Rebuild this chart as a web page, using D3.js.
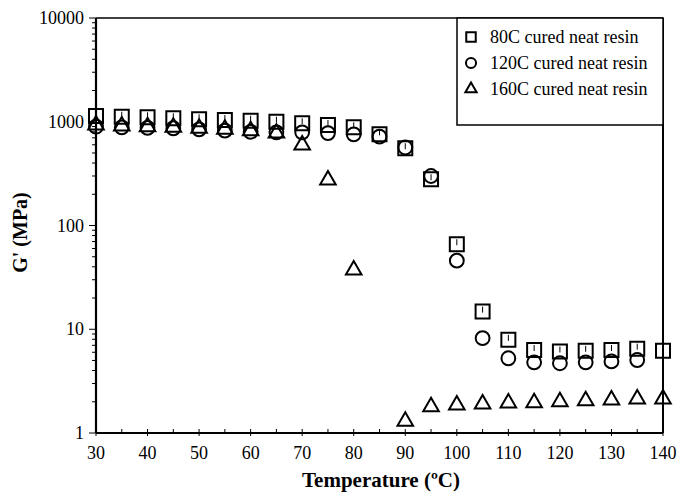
<!DOCTYPE html>
<html>
<head>
<meta charset="utf-8">
<script src="https://d3js.org/d3.v7.min.js"></script>
<style>
  body { margin: 0; background: #fff; }
  text { font-family: "Liberation Serif", "Times New Roman", serif; fill: #000; }
</style>
</head>
<body>
<div id="chart"></div>
<script>
// temperature (C) and storage modulus G' (MPa)
var temps = [30, 35, 40, 45, 50, 55, 60, 65, 70, 75, 80, 85, 90, 95, 100, 105, 110, 115, 120, 125, 130, 135, 140];
var g80  = [1136, 1118, 1104, 1080, 1056, 1040, 1024, 1001, 966, 930, 884, 756, 555, 279, 66, 14.8, 7.9, 6.3, 6.1, 6.2, 6.3, 6.5, 6.2];
var g120 = [896, 884, 873, 865, 845, 820, 800, 790, 790, 777, 756, 718, 565, 300, 45.8, 8.2, 5.25, 4.8, 4.7, 4.8, 4.9, 5.05, null];
var g160 = [930, 910, 896, 884, 865, 845, 820, 777, 597, 275, 37.3, null, 1.3, 1.79, 1.86, 1.9, 1.95, 1.96, 2.0, 2.05, 2.08, 2.13, 2.13];
var seriesNames = ["80C cured neat resin", "120C cured neat resin", "160C cured neat resin"];
var seriesShapes = ["square", "circle", "triangle"];
var xTicks = [30, 40, 50, 60, 70, 80, 90, 100, 110, 120, 130, 140];
var yTicks = [1, 10, 100, 1000, 10000];

var width = 677, height = 492;
var margin = {top: 18, right: 14, bottom: 59, left: 96};
var plotW = width - margin.left - margin.right;
var plotH = height - margin.top - margin.bottom;

var svg = d3.select("#chart").append("svg")
    .attr("width", width)
    .attr("height", height);

var g = svg.append("g").attr("transform", "translate(" + margin.left + "," + margin.top + ")");

var x = d3.scaleLinear().domain([30, 140]).range([0, plotW]);
var y = d3.scaleLog().domain([1, 10000]).range([plotH, 0]);

// frame top and right
g.append("line").attr("x1", 0).attr("x2", plotW).attr("y1", 0).attr("y2", 0)
    .style("stroke", "#000").style("stroke-width", 1.5);
g.append("line").attr("x1", plotW).attr("x2", plotW).attr("y1", 0).attr("y2", plotH)
    .style("stroke", "#000").style("stroke-width", 2);

// x axis: major ticks cross the line, minor ticks inside
var xMinor = d3.range(35, 140, 10);
g.selectAll(".xminor").data(xMinor).enter().append("line")
    .attr("x1", d => x(d)).attr("x2", d => x(d))
    .attr("y1", plotH).attr("y2", plotH - 4)
    .style("stroke", "#000").style("stroke-width", 1);
g.selectAll(".xmajor").data(xTicks).enter().append("line")
    .attr("x1", d => x(d)).attr("x2", d => x(d))
    .attr("y1", plotH + 3).attr("y2", plotH - 4)
    .style("stroke", "#000").style("stroke-width", 1);
g.selectAll(".xlab").data(xTicks).enter().append("text")
    .attr("x", d => x(d))
    .attr("y", plotH + 26)
    .attr("text-anchor", "middle")
    .attr("font-size", "18px")
    .text(d => d);

// y axis: log ticks outside
var yMinor = [];
for (var dec = 1; dec < 10000; dec *= 10) {
    for (var k = 2; k < 10; k++) yMinor.push(dec * k);
}
g.selectAll(".yminor").data(yMinor).enter().append("line")
    .attr("x1", -4).attr("x2", 0)
    .attr("y1", d => y(d)).attr("y2", d => y(d))
    .style("stroke", "#000").style("stroke-width", 1);
g.selectAll(".ymajor").data(yTicks).enter().append("line")
    .attr("x1", -7).attr("x2", 0)
    .attr("y1", d => y(d)).attr("y2", d => y(d))
    .style("stroke", "#000").style("stroke-width", 1);
g.selectAll(".ylab").data(yTicks).enter().append("text")
    .attr("x", -12)
    .attr("y", d => y(d) + 6)
    .attr("text-anchor", "end")
    .attr("font-size", "18px")
    .text(d => d);

// axis lines
g.append("line").attr("x1", 0).attr("x2", plotW).attr("y1", plotH).attr("y2", plotH)
    .style("stroke", "#000").style("stroke-width", 2.2);
g.append("line").attr("x1", 0).attr("x2", 0).attr("y1", 0).attr("y2", plotH)
    .style("stroke", "#000").style("stroke-width", 2.2);

// titles
svg.append("text")
    .attr("x", 381)
    .attr("y", 487)
    .attr("text-anchor", "middle")
    .attr("font-size", "21px")
    .attr("font-weight", "bold")
    .text("Temperature (ºC)");
svg.append("text")
    .attr("transform", "translate(27," + (margin.top + y(100) + 7) + ") rotate(-90)")
    .attr("text-anchor", "middle")
    .attr("font-size", "20px")
    .attr("font-weight", "bold")
    .text("G' (MPa)");

// markers
var sym = {
    square: d3.symbol().type(d3.symbolSquare).size(196),
    circle: d3.symbol().type(d3.symbolCircle).size(150),
    triangle: d3.symbol().type(d3.symbolTriangle).size(105)
};
function pts(vals) {
    return temps.map((t, i) => ({t: t, v: vals[i]})).filter(d => d.v != null);
}
var allSeries = [g80, g120, g160];

allSeries.forEach(function(vals, si) {
    var shape = seriesShapes[si];
    var grp = g.append("g");
    grp.selectAll("path").data(pts(vals)).enter().append("path")
        .attr("d", sym[shape])
        .attr("transform", d => "translate(" + x(d.t) + "," + y(d.v) + ")")
        .style("fill", "none")
        .style("stroke", "#000")
        .style("stroke-width", 2);
    if (shape == "square") {
        // tiny error bars inside the squares
        grp.selectAll("line").data(pts(vals).filter(d => d.t < 140)).enter().append("line")
            .attr("x1", d => x(d.t)).attr("x2", d => x(d.t))
            .attr("y1", d => y(d.v) - 5).attr("y2", d => y(d.v) + 1)
            .style("stroke", "#000").style("stroke-width", 1);
    }
});

// legend
var lg = svg.append("g").attr("transform", "translate(457,18)");
lg.append("rect")
    .attr("width", 206).attr("height", 107)
    .style("fill", "#fff").style("stroke", "#000").style("stroke-width", 1.5);
var legSym = {
    square: d3.symbol().type(d3.symbolSquare).size(90),
    circle: d3.symbol().type(d3.symbolCircle).size(80),
    triangle: d3.symbol().type(d3.symbolTriangle).size(55)
};
seriesNames.forEach(function(name, i) {
    var yy = 19 + i * 26;
    lg.append("path")
        .attr("d", legSym[seriesShapes[i]])
        .attr("transform", "translate(14," + yy + ")")
        .style("fill", "none").style("stroke", "#000").style("stroke-width", 2);
    lg.append("text")
        .attr("x", 33).attr("y", yy + 6)
        .attr("font-size", "18px")
        .text(name);
});
</script>
</body>
</html>
